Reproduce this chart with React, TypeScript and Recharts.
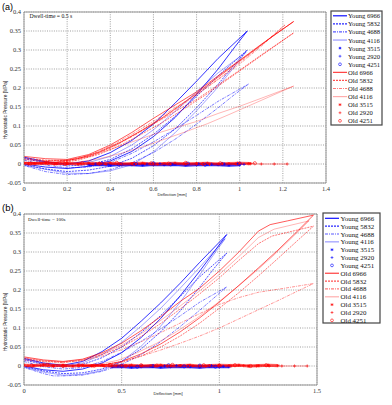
import React from 'react';
import { LineChart, Line, XAxis, YAxis, CartesianGrid, ReferenceLine } from 'recharts';

type Pt = [number, number];

const SPECIMENS = ['6966', '5832', '4688', '4116', '3515', '2920', '4251'];
const yTicks = [-0.05, 0, 0.05, 0.1, 0.15, 0.2, 0.25, 0.3, 0.35, 0.4];
const xTicksA = [0, 0.2, 0.4, 0.6, 0.8, 1, 1.2, 1.4];
const xTicksB = [0, 0.5, 1, 1.5];

// ---------- (a) dwell-time 0.5 s ----------
const aYoung6966: Pt[] = [
  [0, 0.018], [0.05, 0.012], [0.1, 0.006], [0.2, 0.0], [0.3, 0.008], [0.4, 0.03], [0.5, 0.062], [0.6, 0.105],
  [0.7, 0.16], [0.8, 0.218], [0.9, 0.278], [1.035, 0.35],
  [0.98, 0.31], [0.9, 0.25], [0.8, 0.183], [0.7, 0.122], [0.6, 0.072], [0.5, 0.033], [0.4, 0.008],
  [0.3, -0.006], [0.2, -0.012], [0.1, -0.008], [0, 0.0],
];
const aYoung5832: Pt[] = [
  [0, 0.014], [0.1, 0.003], [0.2, -0.005], [0.3, -0.002], [0.4, 0.012], [0.5, 0.04], [0.6, 0.078], [0.7, 0.125],
  [0.8, 0.178], [0.9, 0.232], [1.035, 0.3],
  [0.97, 0.258], [0.9, 0.21], [0.8, 0.148], [0.7, 0.092], [0.6, 0.048], [0.5, 0.015], [0.4, -0.006],
  [0.3, -0.016], [0.2, -0.02], [0.1, -0.013], [0, -0.002],
];
const aYoung4688: Pt[] = [
  [0, 0.01], [0.1, -0.003], [0.2, -0.01], [0.3, -0.008], [0.4, 0.004], [0.5, 0.028], [0.6, 0.058], [0.7, 0.092],
  [0.8, 0.128], [0.9, 0.165], [1.04, 0.21],
  [0.97, 0.18], [0.9, 0.148], [0.8, 0.105], [0.7, 0.065], [0.6, 0.03], [0.5, 0.003], [0.4, -0.015],
  [0.3, -0.025], [0.2, -0.028], [0.1, -0.02], [0, -0.004],
];
const aYoung4116: Pt[] = [
  [0, 0.016], [0.1, 0.004], [0.2, -0.002], [0.3, 0.004], [0.4, 0.02], [0.5, 0.05], [0.6, 0.09], [0.7, 0.138],
  [0.8, 0.19], [0.9, 0.24], [1.03, 0.295],
  [0.96, 0.245], [0.88, 0.19], [0.8, 0.14], [0.7, 0.082], [0.6, 0.032], [0.5, -0.002], [0.4, -0.018],
  [0.3, -0.025], [0.2, -0.024], [0.1, -0.014], [0, -0.003],
];
const aYoung3515: Pt[] = [
  [0.3, -0.002], [0.35, -0.001], [0.4, -0.003], [0.45, -0.001], [0.5, -0.002], [0.55, -0.003], [0.6, -0.001],
  [0.65, -0.002], [0.7, -0.001], [0.75, -0.003], [0.8, -0.002], [0.85, -0.001], [0.9, -0.002], [0.95, -0.003], [1.0, -0.002],
];
const aYoung2920: Pt[] = [
  [0.33, 0.0], [0.39, -0.001], [0.45, 0.001], [0.51, -0.001], [0.57, 0.0], [0.63, 0.001], [0.69, -0.001],
  [0.75, 0.0], [0.81, 0.001], [0.87, -0.001], [0.93, 0.0], [0.99, 0.001], [1.02, -0.001],
];
const aYoung4251: Pt[] = [
  [0.36, 0.001], [0.44, -0.002], [0.52, 0.0], [0.6, 0.002], [0.68, -0.001], [0.76, 0.001], [0.84, -0.002], [0.92, 0.0], [1.0, 0.001],
];
const aOld6966: Pt[] = [
  [0, 0.02], [0.1, 0.014], [0.2, 0.012], [0.3, 0.025], [0.4, 0.05], [0.5, 0.083], [0.6, 0.12], [0.7, 0.155],
  [0.8, 0.19], [0.9, 0.232], [1.0, 0.273], [1.1, 0.315], [1.25, 0.375],
  [1.15, 0.335], [1.05, 0.292], [0.95, 0.25], [0.85, 0.207], [0.75, 0.165], [0.65, 0.125], [0.55, 0.09],
  [0.45, 0.058], [0.35, 0.032], [0.25, 0.014], [0.15, 0.005], [0, 0.004],
];
const aOld5832: Pt[] = [
  [0, 0.016], [0.1, 0.01], [0.2, 0.009], [0.3, 0.02], [0.4, 0.043], [0.5, 0.073], [0.6, 0.105], [0.7, 0.138],
  [0.8, 0.17], [0.9, 0.208], [1.0, 0.247], [1.1, 0.287], [1.25, 0.345],
  [1.15, 0.305], [1.05, 0.265], [0.95, 0.225], [0.85, 0.185], [0.75, 0.148], [0.65, 0.112], [0.55, 0.08],
  [0.45, 0.05], [0.35, 0.026], [0.25, 0.01], [0.15, 0.003], [0, 0.002],
];
const aOld4688: Pt[] = [
  [0, 0.013], [0.1, 0.009], [0.2, 0.01], [0.3, 0.022], [0.4, 0.047], [0.5, 0.078], [0.6, 0.112], [0.7, 0.148],
  [0.8, 0.183], [0.9, 0.222], [1.0, 0.263], [1.1, 0.31], [1.21, 0.366],
  [1.12, 0.322], [1.02, 0.276], [0.92, 0.232], [0.82, 0.19], [0.72, 0.15], [0.62, 0.113], [0.52, 0.078],
  [0.42, 0.047], [0.32, 0.022], [0.22, 0.008], [0.1, 0.002], [0, 0.003],
];
const aOld4116: Pt[] = [
  [0, 0.011], [0.1, 0.008], [0.2, 0.01], [0.3, 0.02], [0.4, 0.038], [0.5, 0.058], [0.6, 0.078], [0.7, 0.095],
  [0.8, 0.112], [0.9, 0.133], [1.0, 0.152], [1.1, 0.173], [1.25, 0.205],
  [1.15, 0.18], [1.05, 0.155], [0.95, 0.13], [0.85, 0.106], [0.75, 0.085], [0.65, 0.065], [0.55, 0.045],
  [0.45, 0.028], [0.35, 0.014], [0.25, 0.005], [0.1, 0.001], [0, 0.002],
];
const aOld3515: Pt[] = [
  [0, 0.002], [0.05, 0.001], [0.1, 0.003], [0.15, 0.001], [0.2, 0.002], [0.25, 0.0], [0.3, 0.002], [0.35, 0.001],
  [0.4, 0.002], [0.45, 0.0], [0.5, 0.001], [0.55, 0.002], [0.6, 0.0], [0.65, 0.001], [0.7, 0.002], [0.75, 0.0],
  [0.8, 0.001], [0.85, 0.002], [0.9, 0.0], [0.95, 0.001], [1.0, 0.002], [1.05, 0.001],
];
const aOld2920: Pt[] = [
  [0.02, 0.0], [0.08, 0.001], [0.14, -0.001], [0.2, 0.0], [0.26, 0.001], [0.32, 0.0], [0.38, -0.001], [0.44, 0.001],
  [0.5, 0.0], [0.56, 0.001], [0.62, -0.001], [0.68, 0.0], [0.74, 0.001], [0.8, 0.0], [0.86, -0.001], [0.92, 0.001],
  [0.98, 0.0], [1.04, 0.001], [1.1, 0.0], [1.16, 0.0], [1.22, 0.0],
];
const aOld4251: Pt[] = [
  [0.03, 0.001], [0.11, 0.003], [0.19, 0.0], [0.27, 0.002], [0.35, 0.001], [0.43, 0.003], [0.51, 0.0],
  [0.59, 0.002], [0.67, 0.001], [0.75, 0.003], [0.83, 0.0], [0.91, 0.002], [0.99, 0.001], [1.07, 0.002],
];

// ---------- (b) dwell-time 100 s ----------
const bYoung6966: Pt[] = [
  [0, 0.02], [0.1, 0.008], [0.2, 0.002], [0.3, 0.012], [0.4, 0.038], [0.5, 0.073], [0.6, 0.118], [0.7, 0.166],
  [0.8, 0.218], [0.9, 0.273], [1.038, 0.346],
  [0.98, 0.305], [0.9, 0.25], [0.8, 0.185], [0.7, 0.125], [0.6, 0.075], [0.5, 0.035], [0.4, 0.008],
  [0.3, -0.008], [0.2, -0.014], [0.1, -0.01], [0, 0.0],
];
const bYoung5832: Pt[] = [
  [0, 0.016], [0.1, 0.004], [0.2, -0.003], [0.3, 0.004], [0.4, 0.022], [0.5, 0.05], [0.6, 0.088], [0.7, 0.133],
  [0.8, 0.183], [0.9, 0.235], [1.038, 0.297],
  [0.97, 0.255], [0.9, 0.208], [0.8, 0.145], [0.7, 0.09], [0.6, 0.045], [0.5, 0.012], [0.4, -0.008],
  [0.3, -0.018], [0.2, -0.02], [0.1, -0.013], [0, -0.002],
];
const bYoung4688: Pt[] = [
  [0, 0.012], [0.1, -0.002], [0.2, -0.008], [0.3, -0.004], [0.4, 0.012], [0.5, 0.036], [0.6, 0.065], [0.7, 0.098],
  [0.8, 0.132], [0.9, 0.168], [1.038, 0.208],
  [0.97, 0.178], [0.9, 0.147], [0.8, 0.104], [0.7, 0.064], [0.6, 0.03], [0.5, 0.004], [0.4, -0.014],
  [0.3, -0.024], [0.2, -0.026], [0.15, -0.026], [0.1, -0.02], [0, -0.004],
];
const bYoung4116: Pt[] = [
  [0, 0.018], [0.1, 0.006], [0.2, 0.0], [0.3, 0.008], [0.4, 0.03], [0.5, 0.062], [0.6, 0.105], [0.7, 0.152],
  [0.8, 0.205], [0.9, 0.26], [1.03, 0.335],
  [0.96, 0.285], [0.88, 0.225], [0.8, 0.168], [0.7, 0.105], [0.6, 0.052], [0.5, 0.012], [0.4, -0.012],
  [0.3, -0.022], [0.2, -0.024], [0.1, -0.016], [0, -0.003],
];
const bYoung3515: Pt[] = [
  [0.45, -0.002], [0.5, -0.001], [0.55, -0.003], [0.6, -0.002], [0.65, -0.001], [0.7, -0.003], [0.75, -0.002],
  [0.8, -0.001], [0.85, -0.002], [0.9, -0.003], [0.95, -0.001], [1.0, -0.002], [1.05, -0.002],
];
const bYoung2920: Pt[] = [
  [0.48, 0.0], [0.54, -0.001], [0.6, 0.001], [0.66, -0.001], [0.72, 0.0], [0.78, 0.001], [0.84, -0.001],
  [0.9, 0.0], [0.96, 0.001], [1.02, -0.001],
];
const bYoung4251: Pt[] = [
  [0.5, 0.001], [0.58, -0.002], [0.66, 0.0], [0.74, 0.002], [0.82, -0.001], [0.9, 0.001], [0.98, -0.002],
];
const bOld6966: Pt[] = [
  [0, 0.024], [0.1, 0.016], [0.2, 0.012], [0.3, 0.018], [0.4, 0.035], [0.5, 0.06], [0.6, 0.093], [0.7, 0.13],
  [0.8, 0.17], [0.9, 0.205], [1.0, 0.25], [1.1, 0.3], [1.2, 0.355], [1.26, 0.372], [1.35, 0.382], [1.482, 0.397],
  [1.4, 0.355], [1.3, 0.305], [1.2, 0.258], [1.1, 0.212], [1.0, 0.168], [0.9, 0.127], [0.8, 0.09], [0.7, 0.058],
  [0.6, 0.032], [0.5, 0.012], [0.4, 0.002], [0.3, 0.0],
];
const bOld5832: Pt[] = [
  [0, 0.02], [0.1, 0.013], [0.2, 0.01], [0.3, 0.015], [0.4, 0.03], [0.5, 0.05], [0.6, 0.078], [0.7, 0.112],
  [0.8, 0.15], [0.9, 0.19], [1.0, 0.232], [1.1, 0.278], [1.2, 0.322], [1.27, 0.342], [1.482, 0.368],
  [1.4, 0.33], [1.3, 0.283], [1.2, 0.237], [1.1, 0.193], [1.0, 0.152], [0.9, 0.113], [0.8, 0.079], [0.7, 0.05],
  [0.6, 0.026], [0.5, 0.009], [0.4, 0.001], [0.3, 0.0],
];
const bOld4688: Pt[] = [
  [0, 0.016], [0.1, 0.011], [0.2, 0.009], [0.3, 0.014], [0.4, 0.026], [0.5, 0.043], [0.6, 0.064], [0.7, 0.088],
  [0.8, 0.113], [0.9, 0.138], [1.0, 0.162], [1.1, 0.18], [1.2, 0.194], [1.35, 0.206], [1.482, 0.217],
  [1.4, 0.197], [1.3, 0.172], [1.2, 0.148], [1.1, 0.124], [1.0, 0.1], [0.9, 0.079], [0.8, 0.06], [0.7, 0.042],
  [0.6, 0.026], [0.5, 0.012], [0.4, 0.003], [0.3, 0.0],
];
const bOld4116: Pt[] = [
  [0, 0.022], [0.1, 0.014], [0.2, 0.011], [0.3, 0.017], [0.4, 0.032], [0.5, 0.055], [0.6, 0.085], [0.7, 0.12],
  [0.8, 0.158], [0.9, 0.198], [1.0, 0.241], [1.1, 0.288], [1.2, 0.338], [1.28, 0.36], [1.46, 0.382],
  [1.38, 0.342], [1.28, 0.292], [1.18, 0.246], [1.08, 0.203], [0.98, 0.162], [0.88, 0.124], [0.78, 0.09],
  [0.68, 0.06], [0.58, 0.035], [0.48, 0.015], [0.38, 0.004], [0.28, 0.0],
];
const bOld3515: Pt[] = [
  [0, 0.002], [0.05, 0.001], [0.1, 0.003], [0.15, 0.001], [0.2, 0.002], [0.25, 0.0], [0.3, 0.002], [0.35, 0.001],
  [0.4, 0.002], [0.45, 0.0], [0.5, 0.001], [0.55, 0.002], [0.6, 0.0], [0.65, 0.001], [0.7, 0.002], [0.75, 0.0],
  [0.8, 0.001], [0.85, 0.002], [0.9, 0.0], [0.95, 0.001], [1.0, 0.002], [1.05, 0.001], [1.1, 0.002], [1.15, 0.0],
  [1.2, 0.001], [1.25, 0.002], [1.3, 0.001],
];
const bOld2920: Pt[] = [
  [0.02, 0.0], [0.085, 0.001], [0.15, -0.001], [0.215, 0.0], [0.28, 0.001], [0.345, 0.0], [0.41, -0.001],
  [0.475, 0.001], [0.54, 0.0], [0.605, 0.001], [0.67, -0.001], [0.735, 0.0], [0.8, 0.001], [0.865, 0.0],
  [0.93, -0.001], [0.995, 0.001], [1.06, 0.0], [1.125, 0.001], [1.19, 0.0], [1.255, 0.0], [1.32, 0.0],
  [1.385, 0.0], [1.45, 0.0],
];
const bOld4251: Pt[] = [
  [0.04, 0.001], [0.12, 0.003], [0.2, 0.0], [0.28, 0.002], [0.36, 0.001], [0.44, 0.003], [0.52, 0.0], [0.6, 0.002],
  [0.68, 0.001], [0.76, 0.003], [0.84, 0.0], [0.92, 0.002], [1.0, 0.001], [1.08, 0.002], [1.16, 0.0], [1.24, 0.002],
];

const panelA = {
  young: [aYoung6966, aYoung5832, aYoung4688, aYoung4116, aYoung3515, aYoung2920, aYoung4251],
  old: [aOld6966, aOld5832, aOld4688, aOld4116, aOld3515, aOld2920, aOld4251],
};
const panelB = {
  young: [bYoung6966, bYoung5832, bYoung4688, bYoung4116, bYoung3515, bYoung2920, bYoung4251],
  old: [bOld6966, bOld5832, bOld4688, bOld4116, bOld3515, bOld2920, bOld4251],
};

const BLUE = '#0000ff';
const RED = '#ff0000';
const SERIF = '"Liberation Serif", "DejaVu Serif", serif';
const SANS = '"Liberation Sans", Arial, sans-serif';

type Style = { dash?: string; w: number; op: number; mark?: 'star' | 'plus' | 'circle' };
const STYLES: Style[] = [
  { w: 0.85, op: 0.95 },
  { dash: '2 1', w: 0.8, op: 0.85 },
  { dash: '3 1 1 1', w: 0.8, op: 0.65 },
  { w: 0.9, op: 0.4 },
  { w: 3.2, op: 0.8, mark: 'star' },
  { w: 0.8, op: 0.65, mark: 'plus' },
  { w: 0.8, op: 0.55, mark: 'circle' },
];

const mk = (pts: Pt[]) => pts.map(([x, y]) => ({ x, y }));

const Marker = ({ kind, cx, cy, color, s = 1.6 }: any) => {
  if (cx == null || cy == null) return null;
  if (kind === 'star') {
    const d = s * 0.7;
    return (
      <g stroke={color} strokeWidth={0.6}>
        <line x1={cx - s} x2={cx + s} y1={cy} y2={cy} />
        <line x1={cx} x2={cx} y1={cy - s} y2={cy + s} />
        <line x1={cx - d} x2={cx + d} y1={cy - d} y2={cy + d} />
        <line x1={cx - d} x2={cx + d} y1={cy + d} y2={cy - d} />
      </g>
    );
  }
  if (kind === 'plus') {
    return (
      <g stroke={color} strokeWidth={0.6}>
        <line x1={cx - s} x2={cx + s} y1={cy} y2={cy} />
        <line x1={cx} x2={cx} y1={cy - s} y2={cy + s} />
      </g>
    );
  }
  return <circle cx={cx} cy={cy} r={s} fill="none" stroke={color} strokeWidth={0.6} />;
};

const dotFn = (kind: string, color: string) => (p: any) => (
  <g key={`m-${p.index}`}>
    <Marker kind={kind} cx={p.cx} cy={p.cy} color={color} />
  </g>
);

const tickStyle = { fontSize: 6.5, fill: '#333', fontFamily: SERIF };

interface PanelProps {
  data: { young: Pt[][]; old: Pt[][] };
  height: number;
  marginTop: number;
  marginRight: number;
  xMax: number;
  xTicks: number[];
}

const Panel: React.FC<PanelProps> = ({ data, height, marginTop, marginRight, xMax, xTicks }) => {
  const groups = [
    { series: data.young, color: BLUE, tag: 'Young' },
    { series: data.old, color: RED, tag: 'Old' },
  ];
  return (
    <LineChart width={392} height={height} margin={{ top: marginTop, right: marginRight, bottom: 1, left: 0 }}>
      <CartesianGrid stroke="#777" strokeWidth={0.7} strokeDasharray="1 1.3" />
      <XAxis
        dataKey="x"
        type="number"
        domain={[0, xMax]}
        ticks={xTicks}
        height={14}
        tick={tickStyle}
        tickLine={false}
        tickSize={0}
        tickMargin={3}
        axisLine={{ stroke: '#999' }}
        allowDataOverflow
      />
      <YAxis
        dataKey="y"
        type="number"
        domain={[-0.05, 0.4]}
        ticks={yTicks}
        width={24}
        tick={tickStyle}
        tickLine={false}
        tickSize={0}
        tickMargin={3}
        axisLine={{ stroke: '#999' }}
        interval={0}
        allowDataOverflow
      />
      <ReferenceLine x={xMax} stroke="#999" />
      <ReferenceLine y={0.4} stroke="#999" />
      {groups.map((g) =>
        g.series.map((pts, i) => {
          const st = STYLES[i];
          return (
            <Line
              key={`${g.tag}-${SPECIMENS[i]}`}
              name={`${g.tag} ${SPECIMENS[i]}`}
              data={mk(pts)}
              dataKey="y"
              type="linear"
              stroke={g.color}
              strokeOpacity={g.tag === 'Old' ? st.op * 0.8 : st.op}
              strokeWidth={st.w}
              strokeDasharray={st.dash}
              dot={st.mark ? dotFn(st.mark, g.color) : false}
              activeDot={false}
              isAnimationActive={false}
            />
          );
        })
      )}
    </LineChart>
  );
};

interface LegendBox { x: number; y: number; w: number; h: number; row0: number; step: number; sx1: number; sx2: number; tx: number; fs: number }
const legendA: LegendBox = { x: 331, y: 11, w: 51, h: 114, row0: 15.8, step: 8.08, sx1: 333, sx2: 347, tx: 348, fs: 6.6 };
const legendB: LegendBox = { x: 323, y: 213, w: 57, h: 110, row0: 218.3, step: 7.85, sx1: 325, sx2: 339, tx: 340.5, fs: 6.9 };

const LegendSvg: React.FC<{ box: LegendBox }> = ({ box }) => {
  const rows = [
    ...SPECIMENS.map((id, i) => ({ label: `Young ${id}`, color: BLUE, st: STYLES[i] })),
    ...SPECIMENS.map((id, i) => ({ label: `Old ${id}`, color: RED, st: STYLES[i] })),
  ];
  return (
    <g>
      <rect x={box.x} y={box.y} width={box.w} height={box.h} fill="#fff" stroke="#444" strokeWidth={1.2} />
      {rows.map((r, i) => {
        const y = box.row0 + i * box.step;
        return (
          <g key={r.label}>
            {r.st.mark ? (
              <Marker kind={r.st.mark} cx={(box.sx1 + box.sx2) / 2} cy={y} color={r.color} s={1.4} />
            ) : (
              <line
                x1={box.sx1}
                x2={box.sx2}
                y1={y}
                y2={y}
                stroke={r.color}
                strokeOpacity={r.color === RED ? r.st.op * 0.8 : r.st.op}
                strokeWidth={1.2}
                strokeDasharray={r.st.dash}
              />
            )}
            <text x={box.tx} y={y} dominantBaseline="central" fontSize={box.fs} fontFamily={SERIF} fill="#111">
              {r.label}
            </text>
          </g>
        );
      })}
    </g>
  );
};

const App: React.FC = () => (
  <div style={{ position: 'absolute', left: 0, top: 0, width: 392, height: 405, background: '#fff', overflow: 'hidden' }}>
    <div style={{ position: 'absolute', left: 0, top: 0 }}>
      <Panel data={panelA} height={198} marginTop={12} marginRight={66} xMax={1.4} xTicks={xTicksA} />
    </div>
    <div style={{ position: 'absolute', left: 0, top: 200 }}>
      <Panel data={panelB} height={200} marginTop={14} marginRight={75} xMax={1.5} xTicks={xTicksB} />
    </div>
    <svg width={392} height={405} style={{ position: 'absolute', left: 0, top: 0, pointerEvents: 'none' }}>
      <text x={2} y={9.5} fontSize={9} fontFamily={SANS} fill="#000">(a)</text>
      <text x={2} y={210.5} fontSize={9.5} fontFamily={SANS} fill="#000">(b)</text>
      <text x={29.5} y={17.5} fontSize={5.7} fontFamily={SERIF} fill="#111">Dwell-time = 0.5 s</text>
      <text x={28} y={220.8} fontSize={5} fontFamily={SERIF} fill="#111">Dwell-time = 100s</text>
      <text transform="translate(7,110) rotate(-90)" textAnchor="middle" fontSize={4.8} fontFamily={SANS} fill="#222">
        Hydrostatic Pressure [MPa]
      </text>
      <text transform="translate(7,322) rotate(-90)" textAnchor="middle" fontSize={4.8} fontFamily={SANS} fill="#222">
        Hydrostatic Pressure [MPa]
      </text>
      <text x={172} y={196} textAnchor="middle" fontSize={4.2} fontFamily={SANS} fill="#222">Deflection [mm]</text>
      <text x={168} y={395} textAnchor="middle" fontSize={4.2} fontFamily={SANS} fill="#222">Deflection [mm]</text>
      <LegendSvg box={legendA} />
      <LegendSvg box={legendB} />
    </svg>
  </div>
);

export default App;
